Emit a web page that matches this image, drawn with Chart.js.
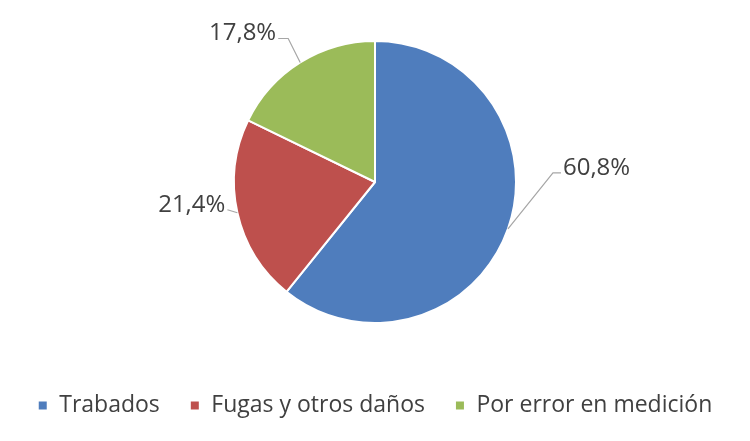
<!DOCTYPE html>
<html>
<head>
<meta charset="utf-8">
<script src="https://cdn.jsdelivr.net/npm/chart.js@4"></script>
<style>
  html, body { margin: 0; padding: 0; background: #fff; }
  #wrap { width: 750px; height: 441px; position: relative; }
</style>
</head>
<body>
<div id="wrap"><canvas id="pie"></canvas></div>
<script>
/* ---------- DATA ---------- */
const categories = ["Trabados", "Fugas y otros daños", "Por error en medición"];
const shares = [60.8, 21.4, 17.8];
const sliceColors = ["#4F7DBD", "#BE504D", "#9BBB59"];

const FONT = "'Open Sans', sans-serif";

/* ---------- LABELS WITH LEADER LINES ---------- */
// per-slice elbow offset from the arc edge, and label side
const leaders = [
  { dx: 45, dy: -56, run: 8, side: "right" },
  { dx: -10, dy: -3, run: 0, side: "left" },
  { dx: -12, dy: -24, run: 10, side: "left" }
];

const leaderLabels = {
  id: "leaderLabels",
  afterDatasetsDraw(chart) {
    const ctx = chart.ctx;
    const meta = chart.getDatasetMeta(0);
    ctx.save();
    ctx.font = "24px " + FONT;
    ctx.fillStyle = "#404040";
    ctx.strokeStyle = "#A6A6A6";
    ctx.lineWidth = 1.2;
    meta.data.forEach((arc, i) => {
      const p = arc.getProps(["x", "y", "startAngle", "endAngle", "outerRadius"], true);
      const mid = (p.startAngle + p.endAngle) / 2;
      const ex = p.x + Math.cos(mid) * p.outerRadius;
      const ey = p.y + Math.sin(mid) * p.outerRadius;
      const L = leaders[i];
      const bx = ex + L.dx, by = ey + L.dy;
      const dir = L.side === "right" ? 1 : -1;
      const tx = bx + dir * L.run;
      ctx.beginPath();
      ctx.moveTo(ex, ey);
      ctx.lineTo(bx, by);
      ctx.lineTo(tx, by);
      ctx.stroke();
      ctx.textAlign = L.side === "right" ? "left" : "right";
      ctx.textBaseline = "alphabetic";
      const txt = shares[i].toFixed(1).replace(".", ",") + "%";
      ctx.fillText(txt, tx + dir * 2, by + 2);
    });
    ctx.restore();
  }
};

/* ---------- CHART ---------- */
new Chart(document.getElementById("pie"), {
  type: "pie",
  data: {
    labels: categories,
    datasets: [{
      data: shares,
      backgroundColor: sliceColors,
      borderColor: "#ffffff",
      borderWidth: 2,
      radius: 141
    }]
  },
  options: {
    responsive: true,
    maintainAspectRatio: false,
    animation: false,
    layout: { padding: { top: 0, bottom: 14, left: 0, right: 0 } },
    plugins: {
      tooltip: { enabled: false },
      legend: {
        position: "bottom",
        labels: {
          boxWidth: 10,
          boxHeight: 10,
          padding: 30,
          color: "#404040",
          font: { size: 23, family: FONT }
        }
      }
    }
  },
  plugins: [leaderLabels]
});
</script>
</body>
</html>
